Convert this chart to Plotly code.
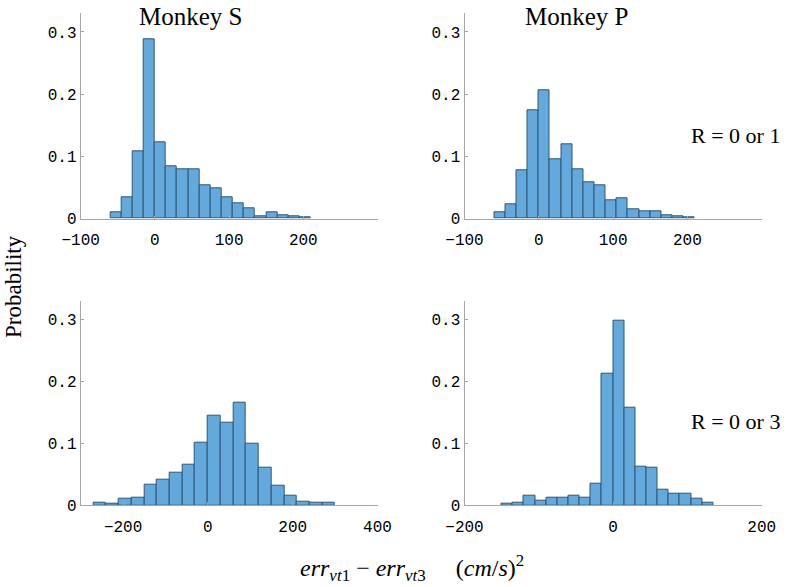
import plotly.graph_objects as go
from plotly.subplots import make_subplots

# histogram probabilities
bin_w_top = 15
s_r1_start = -60
s_r1_prob = [0.011, 0.035, 0.109, 0.289, 0.122, 0.084, 0.080, 0.080, 0.053,
             0.049, 0.034, 0.025, 0.016, 0.004, 0.011, 0.005, 0.004, 0.002]
p_r1_start = -60
p_r1_prob = [0.010, 0.023, 0.077, 0.174, 0.206, 0.095, 0.120, 0.079, 0.058,
             0.053, 0.029, 0.032, 0.015, 0.012, 0.012, 0.005, 0.004, 0.003]

bin_w_s3 = 30
s_r3_start = -270
s_r3_prob = [0.004, 0.003, 0.010, 0.013, 0.033, 0.041, 0.053, 0.065, 0.101, 0.144,
             0.133, 0.166, 0.099, 0.060, 0.031, 0.015, 0.006, 0.005, 0.004]

bin_w_p3 = 15
p_r3_start = -150
p_r3_prob = [0.003, 0.004, 0.016, 0.008, 0.012, 0.012, 0.015, 0.013, 0.035, 0.212,
             0.298, 0.157, 0.062, 0.061, 0.025, 0.019, 0.019, 0.010, 0.005]

titles = ["Monkey S", "Monkey P"]
row_labels = ["R = 0 or 1", "R = 0 or 3"]
x_ranges = [[-100, 300], [-100, 300], [-300, 400], [-200, 200]]
x_ticks = [[-100, 0, 100, 200], [-100, 0, 100, 200], [-200, 0, 200, 400], [-200, 0, 200]]
y_ticks = [0, 0.1, 0.2, 0.3]
y_ticktext = ["0", "0.1", "0.2", "0.3"]

BAR = "#64a9dc"
EDGE = "#2f5676"
AXIS = "#a6a6a6"
SERIF = "Liberation Serif"
MONO = "Liberation Mono"


def centers(start, w, n):
    return [start + w * (i + 0.5) for i in range(n)]


fig = make_subplots(rows=2, cols=2)
panels = [(s_r1_start, bin_w_top, s_r1_prob, 1, 1),
          (p_r1_start, bin_w_top, p_r1_prob, 1, 2),
          (s_r3_start, bin_w_s3, s_r3_prob, 2, 1),
          (p_r3_start, bin_w_p3, p_r3_prob, 2, 2)]
for start, w, prob, r, c in panels:
    fig.add_trace(go.Bar(x=centers(start, w, len(prob)), y=prob, width=w,
                         marker=dict(color=BAR, line=dict(color=EDGE, width=1)),
                         showlegend=False), row=r, col=c)

W, H = 787, 587
x_dom = [[80.7 / W, 377.5 / W], [464.5 / W, 761.7 / W]]
y_dom = [[1 - 218.7 / H, 1 - 13.3 / H], [1 - 505.3 / H, 1 - 300.7 / H]]

for i in range(4):
    r, c = divmod(i, 2)
    sfx = "" if i == 0 else str(i + 1)
    fig.layout["xaxis" + sfx].update(
        domain=x_dom[c], range=x_ranges[i], tickvals=x_ticks[i],
        ticktext=[str(v).replace("-", "\u2212") for v in x_ticks[i]],
        showline=True, linecolor=AXIS, linewidth=1, showgrid=False, zeroline=False,
        ticks="inside", ticklen=3, tickcolor=AXIS, automargin=False,
        ticklabelstandoff=6,
        tickfont=dict(family=MONO, size=16, color="black"))
    fig.layout["yaxis" + sfx].update(
        domain=y_dom[r], range=[0, 0.33], tickvals=y_ticks, ticktext=y_ticktext,
        showline=True, linecolor=AXIS, linewidth=1, showgrid=False, zeroline=False,
        ticks="inside", ticklen=3, tickcolor=AXIS, automargin=False,
        tickfont=dict(family=MONO, size=16, color="black"))


def note(text, px, py, size, **kw):
    return dict(text=text, x=px / W, y=1 - py / H, xref="paper", yref="paper",
                xanchor=kw.pop("xanchor", "center"), yanchor="middle", showarrow=False,
                font=dict(family=SERIF, size=size, color="black"), **kw)


sub = "<sub><span style='font-size:17px'><i>vt</i>%s</span></sub>"
x_label = ("<i>err</i>" + sub % "1" + " \u2212 <i>err</i>" + sub % "3"
           + "&nbsp;&nbsp;&nbsp;&nbsp;&nbsp;(<i>cm</i>/<i>s</i>)<sup>2</sup>")

ann = []
for c, t in enumerate(titles):
    ann.append(note(t, [190, 576][c], 16, 25))
for r, t in enumerate(row_labels):
    ann.append(note(t, 689, [136, 421][r], 22, xanchor="left"))
ann.append(note("Probability", 13, 287, 23, textangle=-90))
ann.append(note(x_label, 412, 568, 24))

fig.update_layout(width=W, height=H, margin=dict(l=0, r=0, t=0, b=0, autoexpand=False),
                  paper_bgcolor="white", plot_bgcolor="white", bargap=0,
                  annotations=ann)
fig.write_html("out.html", config={"displayModeBar": False},
               post_script="document.body.style.margin='0';")
